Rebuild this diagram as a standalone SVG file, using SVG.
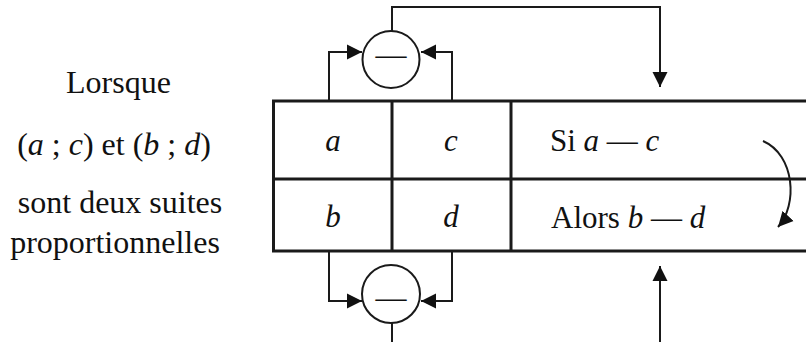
<svg xmlns="http://www.w3.org/2000/svg" width="806" height="342" viewBox="0 0 806 342">
<style>
text{font-family:"Liberation Serif","Times New Roman",serif;font-size:31px;fill:#111}
.l{font-size:32px}
.i{font-style:italic}
.m{text-anchor:middle}
.tbl{fill:none;stroke:#1a1a1a;stroke-width:3}
.con{fill:none;stroke:#1a1a1a;stroke-width:2}
.circ{fill:#fff;stroke:#1a1a1a;stroke-width:2}
</style>
<defs>
<marker id="ah" markerUnits="userSpaceOnUse" markerWidth="16" markerHeight="16" viewBox="0 0 16 16" refX="15" refY="8" orient="auto">
<path d="M0,0.5 L15,8 L0,15.5 z" fill="#111"/>
</marker>
</defs>
<g id="caption">
<text class="m l" x="118.5" y="93">Lorsque</text>
<text class="m l" x="114" y="155">(<tspan class="i">a</tspan> ; <tspan class="i">c</tspan>) et (<tspan class="i">b</tspan> ; <tspan class="i">d</tspan>)</text>
<text class="m l" x="120" y="213">sont deux suites</text>
<text class="m l" x="115" y="253">proportionnelles</text>
</g>
<g id="table">
<path class="tbl" d="M806 101 H273.5 V251 H806 M273.5 179 H806 M392 101 V251 M511 101 V251"/>
<text class="m i" x="333" y="151">a</text>
<text class="m i" x="451" y="151">c</text>
<text class="m i" x="333" y="227">b</text>
<text class="m i" x="451" y="227">d</text>
<text x="550" y="151">Si <tspan class="i">a</tspan> — <tspan class="i">c</tspan></text>
<text x="551" y="228">Alors <tspan class="i">b</tspan> — <tspan class="i">d</tspan></text>
</g>
<g id="connectors">
<path class="con" d="M329 101 V52 H362" marker-end="url(#ah)"/>
<path class="con" d="M452 101 V52 H421" marker-end="url(#ah)"/>
<path class="con" d="M392 31 V7 H660 V87" marker-end="url(#ah)"/>
<path class="con" d="M329 251 V301 H362" marker-end="url(#ah)"/>
<path class="con" d="M452 251 V301 H421" marker-end="url(#ah)"/>
<path class="con" d="M392 323 V342"/>
<path class="con" d="M660 342 V266" marker-end="url(#ah)"/>
<path class="con" d="M763 141 C795 155 798 205 778 227" marker-end="url(#ah)"/>
</g>
<g id="minus-top">
<circle class="circ" cx="391" cy="59.5" r="28.5"/>
<text class="m" x="391" y="65">—</text>
</g>
<g id="minus-bottom">
<circle class="circ" cx="391" cy="294" r="29"/>
<text class="m" x="391" y="308">—</text>
</g>
</svg>
